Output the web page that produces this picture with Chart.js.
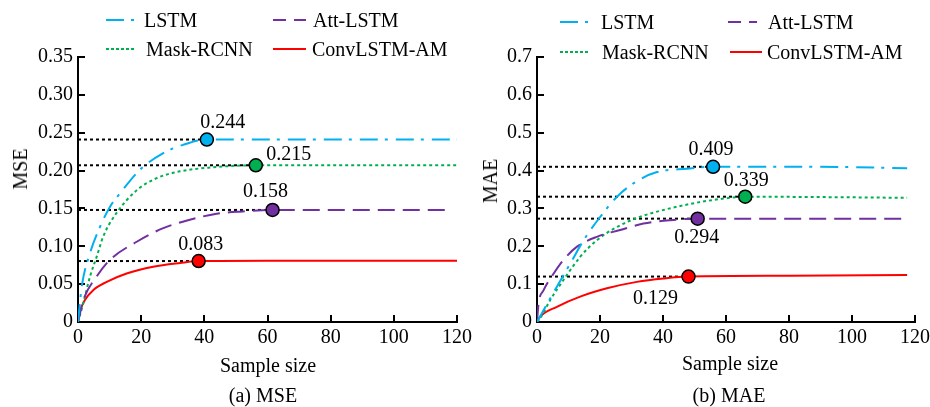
<!DOCTYPE html>
<html>
<head>
<meta charset="utf-8">
<script src="https://cdn.jsdelivr.net/npm/chart.js@4.4.1/dist/chart.umd.min.js"></script>
<style>
  html,body{margin:0;padding:0;background:#fff;}
  #wrap{position:relative;width:930px;height:407px;overflow:hidden;font-family:"Liberation Serif","Times New Roman",serif;color:#000;}
  canvas{position:absolute;left:0;top:0;}
  .t{position:absolute;font-size:20px;line-height:20px;white-space:nowrap;}
  .c{transform:translateX(-50%);}
  .r{transform:translate(-50%,-50%) rotate(-90deg);}
  svg{position:absolute;left:0;top:0;}
</style>
</head>
<body>
<div id="wrap">
  <canvas id="c1" width="930" height="407"></canvas>
  <canvas id="c2" width="1000" height="407"></canvas>
  <svg id="leg" width="930" height="70"></svg>
</div>
<script>
// ---------------- DATA ----------------
const seriesNames = ['LSTM', 'Att-LSTM', 'Mask-RCNN', 'ConvLSTM-AM'];
const xTickVals = [0, 20, 40, 60, 80, 100, 120];
const mseTickVals = [0, 0.05, 0.10, 0.15, 0.20, 0.25, 0.30, 0.35];
const mseTickLabels = ['0', '0.05', '0.10', '0.15', '0.20', '0.25', '0.30', '0.35'];
const maeTickVals = [0, 0.1, 0.2, 0.3, 0.4, 0.5, 0.6, 0.7];
const maeTickLabels = ['0', '0.1', '0.2', '0.3', '0.4', '0.5', '0.6', '0.7'];

// (a) MSE curves
const mseLstmX = [0, 1.2, 3.8, 7, 10.1, 13.3, 19.6, 27, 33.3, 40.8, 60, 80, 100, 120];
const mseLstmY = [0, 0.047, 0.091, 0.126, 0.152, 0.170, 0.201, 0.223, 0.234, 0.241, 0.241, 0.241, 0.241, 0.241];
const mseAttX = [0, 1.7, 5.9, 10.1, 18.6, 27, 35.4, 43.9, 52, 61.6, 80, 100, 116.7];
const mseAttY = [0, 0.029, 0.060, 0.082, 0.106, 0.124, 0.135, 0.143, 0.146, 0.148, 0.148, 0.148, 0.148];
const mseMaskX = [0, 1.7, 3.8, 5.9, 8, 12.2, 18.6, 24.9, 32.3, 41.8, 56.3, 80, 100, 120];
const mseMaskY = [0, 0.025, 0.060, 0.086, 0.113, 0.144, 0.174, 0.190, 0.199, 0.204, 0.207, 0.207, 0.207, 0.207];
const mseConvX = [0, 0.6, 2.2, 4.8, 9.1, 15.4, 23.8, 32.3, 38.2, 60, 80, 100, 120];
const mseConvY = [0, 0.0136, 0.029, 0.042, 0.053, 0.064, 0.073, 0.078, 0.0805, 0.081, 0.081, 0.081, 0.081];
// (a) highlighted points: LSTM, Att-LSTM, Mask-RCNN, ConvLSTM-AM
const mseMarkX = [40.8, 61.6, 56.3, 38.2];
const mseMarkY = [0.241, 0.148, 0.207, 0.0805];
const mseMarkLabels = ['0.244', '0.158', '0.215', '0.083'];

// (b) MAE curves
const maeLstmX = [0, 2, 6.3, 10.6, 14.8, 20.1, 25.4, 31.7, 38.1, 47.6, 55.9, 80, 100, 117.5];
const maeLstmY = [0, 0.03, 0.093, 0.155, 0.216, 0.278, 0.331, 0.372, 0.396, 0.405, 0.410, 0.410, 0.409, 0.406];
const maeAttX = [0, 0.5, 2.1, 5.3, 8.4, 12.7, 19, 26.4, 33.8, 42.3, 51, 80, 100, 117.5];
const maeAttY = [0, 0.049, 0.084, 0.128, 0.164, 0.199, 0.225, 0.243, 0.260, 0.269, 0.273, 0.273, 0.273, 0.273];
const maeMaskX = [0, 1, 4.2, 8.4, 13.7, 19, 25.4, 32.8, 40.2, 48.7, 59.2, 66.1, 90, 117.5];
const maeMaskY = [0, 0.010, 0.058, 0.111, 0.172, 0.216, 0.251, 0.278, 0.296, 0.312, 0.326, 0.331, 0.330, 0.328];
const maeConvX = [0, 1, 6.3, 13.7, 22.2, 31.7, 40.2, 48.1, 80, 117.5];
const maeConvY = [0, 0.014, 0.040, 0.067, 0.089, 0.106, 0.115, 0.120, 0.122, 0.124];
const maeMarkX = [55.9, 51.0, 66.1, 48.1];
const maeMarkY = [0.410, 0.273, 0.331, 0.120];
const maeMarkLabels = ['0.409', '0.294', '0.339', '0.129'];

// ---------------- STYLE ----------------
const colors = ['#00B0F0', '#7030A0', '#00B050', '#FF0000'];
const dashes = [[18, 7, 3, 8], [17, 8], [3, 3], []];
const FONT = '"Liberation Serif", "Times New Roman", serif';

function pts(xs, ys) { return xs.map((x, i) => ({x: x, y: ys[i]})); }

function buildDatasets(curves, mx, my) {
  const ds = [];
  for (let i = 0; i < 4; i++) {
    ds.push({type: 'scatter', data: [{x: mx[i], y: my[i]}], showLine: false,
      pointRadius: 6.5, pointBackgroundColor: colors[i], pointBorderColor: '#000', pointBorderWidth: 1.5, order: 0});
  }
  for (let i = 0; i < 4; i++) {
    ds.push({type: 'scatter', data: pts(curves[i][0], curves[i][1]), showLine: true,
      borderColor: colors[i], borderWidth: 2, borderDash: dashes[i], pointRadius: 0,
      cubicInterpolationMode: 'monotone', fill: false, order: 1});
  }
  for (let i = 0; i < 4; i++) {
    ds.push({type: 'scatter', data: [{x: 0, y: my[i]}, {x: mx[i], y: my[i]}], showLine: true,
      borderColor: '#000', borderWidth: 2, borderDash: [3, 3], pointRadius: 0, order: 2});
  }
  return ds;
}

function makeChart(id, curves, mx, my, labels, offsets, tickVals, tickLabels, yMax, pad, yWidth) {
  const labelPlugin = {
    id: 'vals' + id,
    afterDatasetsDraw(chart) {
      const ctx = chart.ctx, xs = chart.scales.x, ys = chart.scales.y;
      ctx.save();
      ctx.font = '20px ' + FONT;
      ctx.fillStyle = '#000';
      ctx.textAlign = 'center';
      ctx.textBaseline = 'middle';
      for (let i = 0; i < 4; i++) {
        ctx.fillText(labels[i], xs.getPixelForValue(mx[i]) + offsets[i][0], ys.getPixelForValue(my[i]) + offsets[i][1]);
      }
      ctx.restore();
    }
  };
  return new Chart(document.getElementById(id), {
    type: 'scatter',
    data: {datasets: buildDatasets(curves, mx, my)},
    options: {
      responsive: false, animation: false, devicePixelRatio: 1,
      layout: {padding: pad},
      plugins: {legend: {display: false}, tooltip: {enabled: false}},
      scales: {
        x: {
          type: 'linear', min: 0, max: 120,
          afterBuildTicks: s => { s.ticks = xTickVals.map(v => ({value: v})); },
          afterFit: s => { s.height = 85; },
          ticks: {color: '#000', font: {family: FONT, size: 20}, padding: 11, maxRotation: 0, autoSkip: false,
            callback: v => String(v)},
          grid: {drawOnChartArea: false, color: '#000', lineWidth: 2, tickLength: -7},
          border: {display: true, color: '#000', width: 2}
        },
        y: {
          type: 'linear', min: 0, max: yMax,
          afterBuildTicks: s => { s.ticks = tickVals.map(v => ({value: v})); },
          afterFit: s => { s.width = yWidth; },
          ticks: {color: '#000', font: {family: FONT, size: 20}, padding: 12, autoSkip: false,
            callback: (v, i) => tickLabels[i]},
          grid: {drawOnChartArea: false, color: '#000', lineWidth: 2, tickLength: -7},
          border: {display: true, color: '#000', width: 2}
        }
      }
    },
    plugins: [labelPlugin]
  });
}

makeChart('c1',
  [[mseLstmX, mseLstmY], [mseAttX, mseAttY], [mseMaskX, mseMaskY], [mseConvX, mseConvY]],
  mseMarkX, mseMarkY, mseMarkLabels,
  [[16, -17], [-7, -18], [33, -11], [2, -16]],
  mseTickVals, mseTickLabels, 0.35,
  {left: 0, top: 57, right: 473, bottom: 0}, 78);

makeChart('c2',
  [[maeLstmX, maeLstmY], [maeAttX, maeAttY], [maeMaskX, maeMaskY], [maeConvX, maeConvY]],
  maeMarkX, maeMarkY, maeMarkLabels,
  [[-2, -17], [-1, 19], [1, -16], [-33, 22]],
  maeTickVals, maeTickLabels, 0.7,
  {left: 477, top: 57, right: 85, bottom: 0}, 60);

// ---------------- LEGENDS / TITLES (HTML text) ----------------
const wrap = document.getElementById('wrap');
function addText(txt, x, y, cls) {
  const d = document.createElement('div');
  d.className = 't' + (cls ? ' ' + cls : '');
  d.textContent = txt;
  d.style.left = x + 'px';
  d.style.top = (cls === 'r' ? y : y - 10) + 'px';
  wrap.appendChild(d);
}
const svg = document.getElementById('leg');
function addSample(x1, x2, y, i) {
  const l = document.createElementNS('http://www.w3.org/2000/svg', 'line');
  l.setAttribute('x1', x1); l.setAttribute('x2', x2);
  l.setAttribute('y1', y); l.setAttribute('y2', y);
  l.setAttribute('stroke', colors[i]); l.setAttribute('stroke-width', 2);
  if (dashes[i].length) l.setAttribute('stroke-dasharray', (i === 0 ? [18, 7, 3, 8] : i === 1 ? [13, 8] : [3, 2]).join(' '));
  svg.appendChild(l);
}
// legend layout: [sampleX1, sampleX2, textX, y] per series
const legA = [[106, 134, 144, 20], [273, 306, 313, 20], [106, 134, 146, 49], [273, 306, 312, 49]];
const legB = [[560, 588, 601, 22], [728, 757, 768, 22], [560, 588, 602, 52], [730, 762, 767, 52]];
[legA, legB].forEach(L => L.forEach((p, i) => { addSample(p[0], p[1], p[3], i); addText(seriesNames[i], p[2], p[3]); }));

addText('Sample size', 268, 365, 'c');
addText('Sample size', 730, 363, 'c');
addText('(a) MSE', 263, 395, 'c');
addText('(b) MAE', 729, 395, 'c');
addText('MSE', 20, 169, 'r');
addText('MAE', 490, 181, 'r');
</script>
</body>
</html>
